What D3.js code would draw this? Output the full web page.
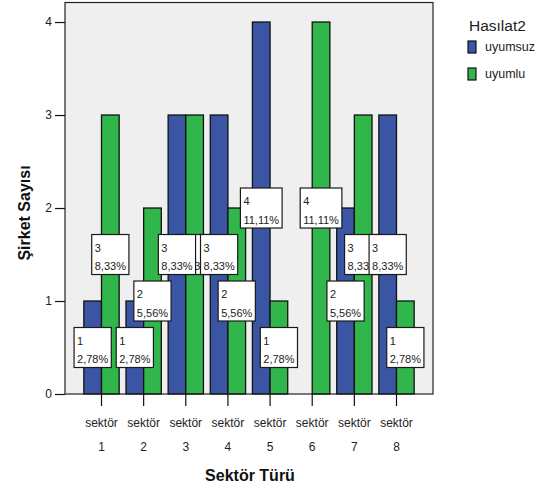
<!DOCTYPE html>
<html>
<head>
<meta charset="utf-8">
<script src="https://cdn.jsdelivr.net/npm/d3@7"></script>
<style>
  html, body { margin: 0; padding: 0; background: #ffffff; }
  svg { display: block; font-family: Arial, "Liberation Sans", sans-serif; }
</style>
</head>
<body>
<svg id="chart" width="545" height="492"></svg>
<script>
// Şirket sayısı by sektör, split by Hasılat2 group
const categories = ["sektör 1", "sektör 2", "sektör 3", "sektör 4", "sektör 5", "sektör 6", "sektör 7", "sektör 8"];
const seriesNames = ["uyumsuz", "uyumlu"];
const uyumsuz = [1, 1, 3, 3, 4, 0, 2, 3];
const uyumlu  = [3, 2, 3, 2, 1, 4, 3, 1];
const yTicks = [0, 1, 2, 3, 4];
const colors = ["#3b55a5", "#31b64b"];

const seriesValues = [uyumsuz, uyumlu];
const total = d3.sum(uyumsuz) + d3.sum(uyumlu);

const svg = d3.select("#chart");
const plot = { left: 65, right: 433, top: 2.5, bottom: 394 };

const x = d3.scaleBand()
  .domain(categories)
  .range([plot.left, plot.right])
  .paddingInner(0)
  .paddingOuter(0.366);

const xSub = d3.scaleBand()
  .domain(seriesNames)
  .range([0, x.bandwidth()])
  .paddingInner(0)
  .paddingOuter(0.194);

const y = d3.scaleLinear()
  .domain([0, 4.21])
  .range([plot.bottom, plot.top]);

// plot background
svg.append("rect")
  .attr("x", plot.left).attr("y", plot.top)
  .attr("width", plot.right - plot.left).attr("height", plot.bottom - plot.top)
  .attr("fill", "#efefef");

// bars
const rows = [];
categories.forEach((c, i) => {
  seriesNames.forEach((s, j) => {
    rows.push({ cat: c, series: s, si: j, value: seriesValues[j][i] });
  });
});

svg.append("g").selectAll("rect")
  .data(rows.filter(d => d.value > 0))
  .join("rect")
  .attr("x", d => x(d.cat) + xSub(d.series))
  .attr("y", d => y(d.value))
  .attr("width", xSub.bandwidth())
  .attr("height", d => y(0) - y(d.value))
  .attr("fill", d => colors[d.si])
  .attr("stroke", "#111")
  .attr("stroke-width", 1.3);

// frame
svg.append("rect")
  .attr("x", plot.left).attr("y", plot.top)
  .attr("width", plot.right - plot.left).attr("height", plot.bottom - plot.top)
  .attr("fill", "none")
  .attr("stroke", "#222")
  .attr("stroke-width", 1.2);

// y axis
const yAxis = d3.axisLeft(y).tickValues(yTicks).tickSize(10).tickPadding(3).tickFormat(d3.format("d"));
const gy = svg.append("g").attr("transform", `translate(${plot.left},0)`).call(yAxis);
gy.select(".domain").remove();
gy.selectAll(".tick line").attr("stroke", "#111").attr("stroke-width", 1.2);
gy.selectAll(".tick text").attr("font-size", 12).attr("fill", "#222")
  .attr("font-family", "Arial, 'Liberation Sans', sans-serif");

// x axis
const xAxis = d3.axisBottom(x).tickSize(12).tickFormat("");
const gx = svg.append("g").attr("transform", `translate(0,${plot.bottom})`).call(xAxis);
gx.select(".domain").remove();
gx.selectAll(".tick line").attr("stroke", "#111").attr("stroke-width", 1.2);
gx.selectAll(".tick").each(function(d) {
  const parts = d.split(" ");
  const t = d3.select(this).append("text")
    .attr("text-anchor", "middle")
    .attr("font-size", 12)
    .attr("fill", "#222")
    .attr("font-family", "Arial, 'Liberation Sans', sans-serif");
  t.append("tspan").attr("x", 0).attr("y", 33).text(parts[0]);
  t.append("tspan").attr("x", 0).attr("y", 57).text(parts[1]);
});

// axis titles
svg.append("text")
  .attr("x", (plot.left + plot.right) / 2 + 1)
  .attr("y", 481)
  .attr("text-anchor", "middle")
  .attr("font-size", 16)
  .attr("font-weight", "bold")
  .attr("fill", "#111")
  .text("Sektör Türü");

svg.append("text")
  .attr("transform", "translate(30,213) rotate(-90)")
  .attr("text-anchor", "middle")
  .attr("font-size", 16)
  .attr("font-weight", "bold")
  .attr("fill", "#111")
  .text("Şirket Sayısı");

// value labels: count and share of total, centred on each bar
const fmtPct = v => (v * 100).toFixed(2).replace(".", ",") + "%";
const labelRows = rows.filter(d => d.value > 0)
  .sort((a, b) => d3.descending(a.si, b.si));

const labels = svg.append("g").selectAll("g")
  .data(labelRows)
  .join("g")
  .attr("transform", d => {
    const cx = x(d.cat) + xSub(d.series) + xSub.bandwidth() / 2;
    const cy = (y(d.value) + y(0)) / 2;
    return `translate(${cx},${cy})`;
  });

labels.each(function(d) {
  const g = d3.select(this);
  const box = g.append("rect");
  const t1 = g.append("text").attr("font-size", 11).attr("fill", "#222").text(d.value);
  const t2 = g.append("text").attr("font-size", 11).attr("fill", "#222").text(fmtPct(d.value / total));
  const w = t2.node().getComputedTextLength() + 6;
  const h = 40;
  box.attr("x", -w / 2).attr("y", -h / 2).attr("width", w).attr("height", h)
    .attr("fill", "#ffffff").attr("stroke", "#1a1a1a").attr("stroke-width", 1.2);
  t1.attr("x", -w / 2 + 3).attr("y", -h / 2 + 17);
  t2.attr("x", -w / 2 + 3).attr("y", -h / 2 + 35.5);
});

// legend
const legend = svg.append("g");
legend.append("text")
  .attr("x", 469).attr("y", 31)
  .attr("font-size", 15.5).attr("fill", "#222")
  .text("Hasılat2");
seriesNames.forEach((s, i) => {
  legend.append("rect")
    .attr("x", 468).attr("y", 41 + i * 27)
    .attr("width", 8).attr("height", 12)
    .attr("fill", colors[i]).attr("stroke", "#111").attr("stroke-width", 1.2);
  legend.append("text")
    .attr("x", 485).attr("y", 51 + i * 27)
    .attr("font-size", 12.5).attr("fill", "#222")
    .text(s);
});
</script>
</body>
</html>
